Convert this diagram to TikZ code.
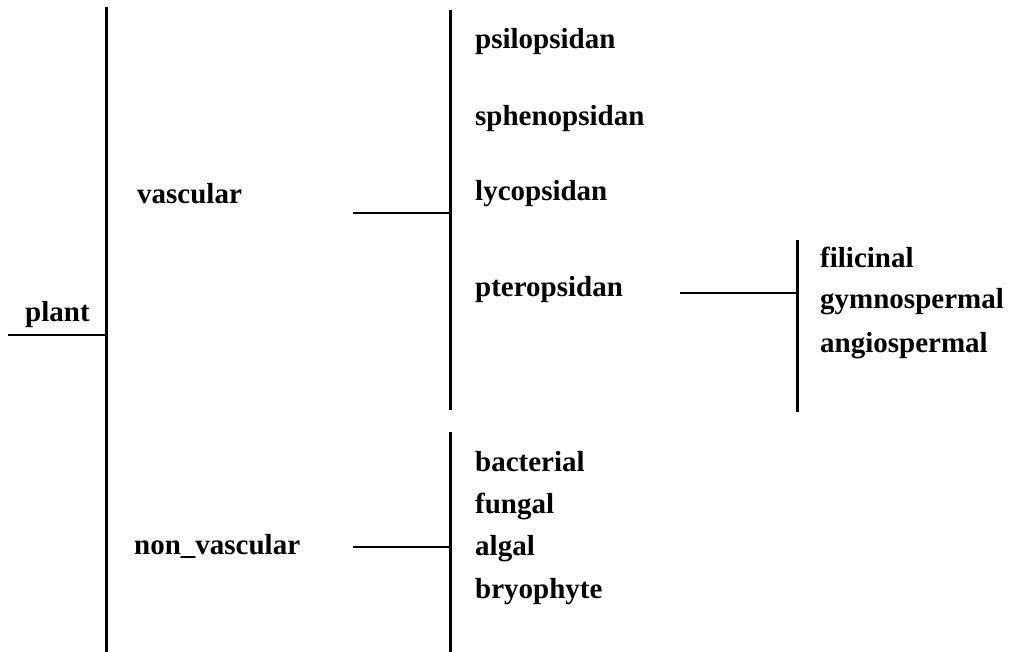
\documentclass[tikz,border=0pt]{standalone}
\usepackage{fontspec}
\setmainfont{Liberation Serif}
\begin{document}
\begin{tikzpicture}[x=1pt,y=-1pt,
  lbl/.style={anchor=mid west,inner sep=0pt,font=\fontsize{29}{31}\selectfont\bfseries},
  bar/.style={line width=3pt},
  link/.style={line width=2.6pt}]
\useasboundingbox (0,0) rectangle (1010,652);
% bars
\coordinate (b1t) at (106,7);   \coordinate (b1b) at (106,652);
\coordinate (b2t) at (450,10);  \coordinate (b2b) at (450,410);
\coordinate (b3t) at (450,432); \coordinate (b3b) at (450,652);
\coordinate (b4t) at (797,240); \coordinate (b4b) at (797,412);
\draw[bar] (b1t) -- (b1b);
\draw[bar] (b2t) -- (b2b);
\draw[bar] (b3t) -- (b3b);
\draw[bar] (b4t) -- (b4b);
% labels
\node[lbl] (plant) at (25,319) {plant};
\node[lbl] (vascular) at (137,201) {vascular};
\node[lbl] (nonvascular) at (134,552) {non\_vascular};
\node[lbl] (psil) at (475,46) {psilopsidan};
\node[lbl] (sphen) at (475,123) {sphenopsidan};
\node[lbl] (lyc) at (475,198) {lycopsidan};
\node[lbl] (pter) at (475,294) {pteropsidan};
\node[lbl] (fil) at (820,265) {filicinal};
\node[lbl] (gym) at (820,306) {gymnospermal};
\node[lbl] (ang) at (820,350) {angiospermal};
\node[lbl] (bact) at (475,469) {bacterial};
\node[lbl] (fung) at (475,511) {fungal};
\node[lbl] (alg) at (475,553) {algal};
\node[lbl] (bry) at (475,596) {bryophyte};
% connectors
\coordinate (plantL) at (8,335);
\draw[link] (plantL) -- (plantL -| b1t);
\coordinate (vasL) at (353,213);
\draw[link] (vasL) -- (vasL -| b2t);
\coordinate (nvL) at (353,547);
\draw[link] (nvL) -- (nvL -| b3t);
\coordinate (ptL) at (680,293);
\draw[link] (ptL) -- (ptL -| b4t);
\end{tikzpicture}
\end{document}
